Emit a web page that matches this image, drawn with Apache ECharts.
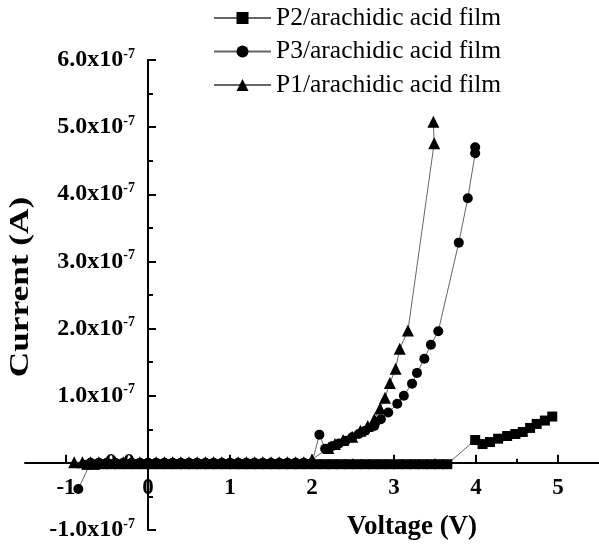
<!DOCTYPE html>
<html><head><meta charset="utf-8">
<script src="https://cdn.jsdelivr.net/npm/echarts@6/dist/echarts.min.js"></script>
<style>html,body{margin:0;padding:0;background:#fff}#c{width:599px;height:547px}</style>
</head><body><div id="c"></div>
<script>
// Voltage (V) and current (A)
const p2Voltage = [-0.75,-0.65,-0.55,-0.45,-0.35,-0.25,-0.15,-0.05,0.05,0.15,0.25,0.35,0.45,0.55,0.65,0.75,0.85,0.95,1.05,1.15,1.25,1.35,1.45,1.55,1.65,1.75,1.85,1.95,2.05,2.15,2.25,2.35,2.45,2.55,2.65,2.75,2.85,2.95,3.05,3.15,3.25,3.35,3.45,3.55,3.65,
  3.99,4.08,4.17,4.27,4.38,4.48,4.57,4.66,4.74,4.84,4.93];
const p2Current = [-0.03e-7,-0.03e-7,-0.02e-7,-0.02e-7,-0.02e-7,-0.02e-7,-0.02e-7,-0.02e-7,-0.02e-7,-0.02e-7,-0.02e-7,-0.02e-7,-0.02e-7,-0.02e-7,-0.02e-7,-0.02e-7,-0.02e-7,-0.02e-7,-0.02e-7,-0.02e-7,-0.02e-7,-0.02e-7,-0.02e-7,-0.02e-7,-0.02e-7,-0.02e-7,-0.02e-7,-0.02e-7,-0.02e-7,-0.02e-7,-0.02e-7,-0.02e-7,-0.02e-7,-0.02e-7,-0.02e-7,-0.02e-7,-0.02e-7,-0.02e-7,-0.02e-7,-0.02e-7,-0.02e-7,-0.02e-7,-0.02e-7,-0.02e-7,-0.02e-7,
  0.34e-7,0.28e-7,0.31e-7,0.36e-7,0.40e-7,0.43e-7,0.46e-7,0.52e-7,0.58e-7,0.63e-7,0.69e-7];

const p3Voltage = [-0.85,-0.7,-0.6,-0.5,-0.4,-0.3,-0.2,-0.1,0,0.1,0.2,0.3,0.4,0.5,0.6,0.7,0.8,0.9,1.0,1.1,1.2,1.3,1.4,1.5,1.6,1.7,1.8,1.9,2.0,
  2.09,2.16,2.25,2.33,2.41,2.49,2.57,2.65,2.76,2.84,2.93,3.04,3.12,3.22,3.28,3.37,3.45,3.54,3.79,3.9,3.99,3.99];
const p3Current = [-0.39e-7,0,0,0,0,0,0,0,0,0,0,0,0,0,0,0,0,0,0,0,0,0,0,0,0,0,0,0,0,
  0.42e-7,0.21e-7,0.25e-7,0.29e-7,0.33e-7,0.38e-7,0.43e-7,0.48e-7,0.55e-7,0.65e-7,0.75e-7,0.88e-7,1.0e-7,1.18e-7,1.34e-7,1.55e-7,1.76e-7,1.96e-7,3.28e-7,3.94e-7,4.61e-7,4.70e-7];

const p1Voltage = [-0.9,-0.8,-0.7,-0.6,-0.5,-0.4,-0.3,-0.2,-0.1,0,0.1,0.2,0.3,0.4,0.5,0.6,0.7,0.8,0.9,1.0,1.1,1.2,1.3,1.4,1.5,1.6,1.7,1.8,1.9,2.0,
  2.2,2.28,2.38,2.49,2.59,2.68,2.76,2.83,2.89,2.95,3.02,3.07,3.17,3.49,3.48];
const p1Current = [0.01e-7,0.01e-7,0.01e-7,0.01e-7,0.01e-7,0.01e-7,0.01e-7,0.01e-7,0.01e-7,0.01e-7,0.01e-7,0.01e-7,0.01e-7,0.01e-7,0.01e-7,0.01e-7,0.01e-7,0.01e-7,0.01e-7,0.02e-7,0.01e-7,0.01e-7,0.01e-7,0.01e-7,0.01e-7,0.01e-7,0.01e-7,0.01e-7,0.01e-7,0.05e-7,
  0.22e-7,0.28e-7,0.34e-7,0.39e-7,0.48e-7,0.55e-7,0.65e-7,0.81e-7,0.97e-7,1.19e-7,1.40e-7,1.70e-7,1.97e-7,4.76e-7,5.08e-7];

const xLabels = [-1,0,1,2,3,4,5];
const xMinorTicks = [-0.5,0.5,1.5,2.5,3.5,4.5];

const seriesNames = ['P2/arachidic acid film','P3/arachidic acid film','P1/arachidic acid film'];

function zip(a,b){ return a.map((v,i)=>[v,b[i]]); }

// grid geometry (axes drawn through the origin via offsets)
const G = {left:25, right:0, top:60, bottom:17, w:574, h:470};
const xMin = -1.5, xMax = 5.5, yMin = -1e-7, yMax = 6e-7;
const yAxisOffset = -(0 - xMin) / (xMax - xMin) * G.w;       // move y axis line to x = 0
const xAxisOffset = -(0 - yMin) / (yMax - yMin) * G.h;       // move x axis line to y = 0
const xTopOffset = -(yMax - 0) / (yMax - yMin) * G.h;        // top axis moved down to y = 0

const serif = '"Times New Roman","Liberation Serif",serif';
const chart = echarts.init(document.getElementById('c'));
const lineCommon = { type:'line', showAllSymbol:true, animation:false, itemStyle:{color:'#000'}, lineStyle:{color:'#666',width:1} };

chart.setOption({
  animation:false,
  backgroundColor:'#fff',
  grid:{left:G.left,right:G.right,top:G.top,bottom:G.bottom,containLabel:false,outerBoundsMode:'none'},
  legend:{
    orient:'vertical', left:213, top:5, padding:0, itemWidth:57, itemHeight:15, itemGap:7.5,
    data:seriesNames,
    textStyle:{fontFamily:serif,fontSize:25.5,color:'#000',lineHeight:25}
  },
  xAxis:[{
    type:'value', min:xMin, max:xMax, position:'bottom', offset:xAxisOffset,
    axisLine:{show:true,onZero:false,lineStyle:{color:'#000',width:2}},
    axisTick:{show:true,inside:true,length:8,customValues:xLabels,lineStyle:{color:'#000',width:2}},
    axisLabel:{customValues:xLabels,margin:14,fontFamily:serif,fontWeight:'bold',fontSize:23,color:'#000'},
    splitLine:{show:false}
  },{
    type:'value', min:xMin, max:xMax, position:'top', offset:xTopOffset,
    axisLine:{show:false,onZero:false},
    axisTick:{show:true,inside:false,length:4,customValues:xMinorTicks,lineStyle:{color:'#000',width:2}},
    axisLabel:{show:false},
    splitLine:{show:false}
  }],
  yAxis:{
    type:'value', min:yMin, max:yMax, interval:1e-7, offset:yAxisOffset,
    axisLine:{show:true,onZero:false,lineStyle:{color:'#000',width:2}},
    axisTick:{show:true,inside:true,length:8,lineStyle:{color:'#000',width:2}},
    minorTick:{show:true,splitNumber:2,length:5,lineStyle:{color:'#000',width:2}},
    splitLine:{show:false}, minorSplitLine:{show:false},
    axisLabel:{
      margin:13,
      formatter:function(v){
        const n = v*1e7;
        if (Math.abs(n) < 1e-6) return '{m|0.0}';
        return '{m|' + n.toFixed(1) + 'x10}{s|-7}';
      },
      rich:{
        m:{fontFamily:serif,fontWeight:'bold',fontSize:24,color:'#000',lineHeight:26},
        s:{fontFamily:serif,fontWeight:'bold',fontSize:14,color:'#000',verticalAlign:'top',lineHeight:26}
      }
    }
  },
  graphic:[
    {type:'text', x:412, y:527, style:{text:'Voltage (V)',font:'bold 27px '+serif,fill:'#000',align:'center',verticalAlign:'middle'}},
    {type:'text', x:21, y:287, rotation:Math.PI/2, scaleX:1.26, style:{text:'Current (A)',font:'bold 28px '+serif,fill:'#000',align:'center',verticalAlign:'middle'}}
  ],
  series:[
    Object.assign({}, lineCommon, {name:seriesNames[0], data:zip(p2Voltage,p2Current), symbol:'rect', symbolSize:10}),
    Object.assign({}, lineCommon, {name:seriesNames[1], data:zip(p3Voltage,p3Current), symbol:'circle', symbolSize:10}),
    Object.assign({}, lineCommon, {name:seriesNames[2], data:zip(p1Voltage,p1Current), symbol:'triangle', symbolSize:12})
  ]
});
</script>
</body></html>
